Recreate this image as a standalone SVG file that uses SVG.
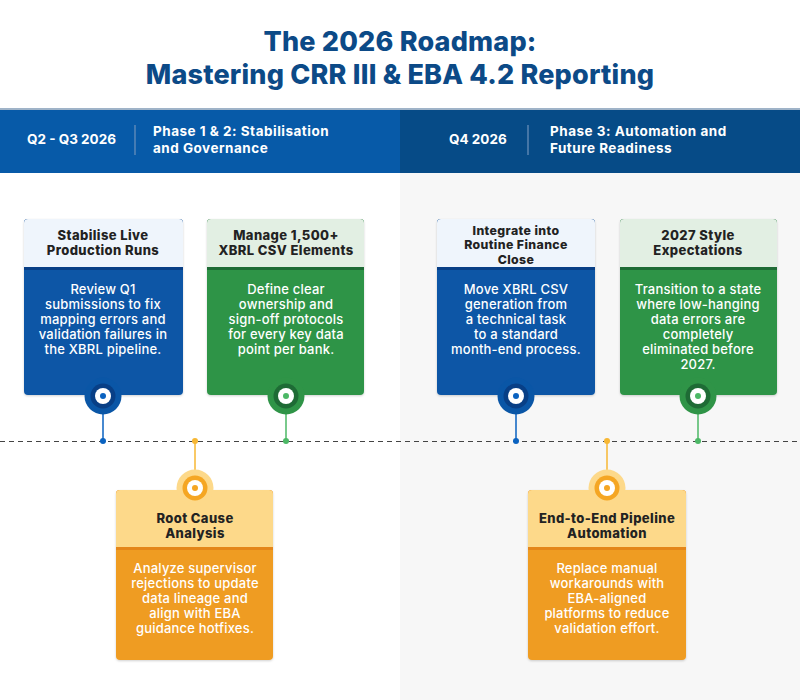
<svg xmlns="http://www.w3.org/2000/svg" width="800" height="700" viewBox="0 0 800 700">
<defs>
<style>
text{font-family:Inter,"Open Sans","Liberation Sans",sans-serif;text-anchor:middle}
.title{font-size:27px;font-weight:800;fill:#0c4a87;letter-spacing:0.2px}
.hq{font-size:13.5px;font-weight:700;fill:#fff;text-anchor:start}
.hp{font-size:13.5px;font-weight:700;fill:#fff;text-anchor:start;letter-spacing:0.5px}
.ct{font-size:13px;font-weight:800;fill:#222;letter-spacing:0.4px}
.ct3{font-size:12.3px}
.cb{font-size:13px;font-weight:500;fill:#fff;letter-spacing:0.2px}
.sep{stroke:#6f93bd;stroke-width:1.2}
.tl{stroke:#444;stroke-width:1;stroke-dasharray:5 4}
</style>
<filter id="sh" x="-10%" y="-10%" width="120%" height="120%"><feDropShadow dx="0" dy="1" stdDeviation="1.2" flood-color="#000" flood-opacity="0.18"/></filter>
</defs>
<rect width="800" height="700" fill="#fff"/>
<rect x="400" y="173" width="400" height="527" fill="#f7f7f7"/>
<text class="title" x="400" y="51">The 2026 Roadmap:</text>
<text class="title" x="400" y="84">Mastering CRR III &amp; EBA 4.2 Reporting</text>
<g id="header">
<rect x="0" y="108" width="800" height="2" fill="#9fb3c8"/>
<rect x="0" y="110" width="400" height="63" fill="#075aa8"/>
<rect x="400" y="110" width="400" height="63" fill="#064b87"/>
<text class="hq" x="27" y="144">Q2 - Q3 2026</text>
<line class="sep" x1="135" y1="125" x2="135" y2="155"/>
<text class="hp" x="153" y="136">Phase 1 &amp; 2: Stabilisation</text>
<text class="hp" x="153" y="153">and Governance</text>
<text class="hq" x="449" y="144">Q4 2026</text>
<line class="sep" x1="528" y1="125" x2="528" y2="155"/>
<text class="hp" x="550" y="136">Phase 3: Automation and</text>
<text class="hp" x="550" y="153">Future Readiness</text>
</g>
<g id="connectors">
<line class="tl" x1="0" y1="441.5" x2="800" y2="441.5"/>
<line x1="103" y1="396" x2="103" y2="441" stroke="#0a62c0" stroke-width="1.5"/>
<circle cx="103" cy="441" r="3" fill="#0a62c0"/>
<line x1="286" y1="396" x2="286" y2="441" stroke="#4cb866" stroke-width="1.5"/>
<circle cx="286" cy="441" r="3" fill="#4cb866"/>
<line x1="516" y1="396" x2="516" y2="441" stroke="#0a62c0" stroke-width="1.5"/>
<circle cx="516" cy="441" r="3" fill="#0a62c0"/>
<line x1="698" y1="396" x2="698" y2="441" stroke="#4cb866" stroke-width="1.5"/>
<circle cx="698" cy="441" r="3" fill="#4cb866"/>
<line x1="195" y1="441" x2="195" y2="488" stroke="#f7b733" stroke-width="1.5"/>
<circle cx="195" cy="441" r="3" fill="#f7b733"/>
<line x1="607" y1="441" x2="607" y2="488" stroke="#f7b733" stroke-width="1.5"/>
<circle cx="607" cy="441" r="3" fill="#f7b733"/>
</g>
<g id="card1">
<rect x="24" y="219" width="159" height="176" rx="4" fill="#0a56a6" filter="url(#sh)"/>
<path d="M24 223a4 4 0 0 1 4-4h151a4 4 0 0 1 4 4v47h-159z" fill="#083f86"/>
<path d="M24 223a4 4 0 0 1 4-4h151a4 4 0 0 1 4 4v44h-159z" fill="#eff5fc"/>
<text class="ct" x="103" y="240">Stabilise Live</text>
<text class="ct" x="103" y="255">Production Runs</text>
<text class="cb" x="103" y="294">Review Q1</text>
<text class="cb" x="103" y="309">submissions to fix</text>
<text class="cb" x="103" y="324">mapping errors and</text>
<text class="cb" x="103" y="339">validation failures in</text>
<text class="cb" x="103" y="354">the XBRL pipeline.</text>
<circle cx="103" cy="396" r="18.5" fill="#0a56a6"/>
<circle cx="103" cy="396" r="12.5" fill="#083f86"/>
<circle cx="103" cy="396" r="8" fill="#fff"/>
<circle cx="103" cy="396" r="3" fill="#0a62c0"/>
</g>
<g id="card2">
<rect x="207" y="219" width="157" height="176" rx="4" fill="#2f9447" filter="url(#sh)"/>
<path d="M207 223a4 4 0 0 1 4-4h149a4 4 0 0 1 4 4v47h-157z" fill="#1e6b35"/>
<path d="M207 223a4 4 0 0 1 4-4h149a4 4 0 0 1 4 4v44h-157z" fill="#e2efe3"/>
<text class="ct" x="286" y="240">Manage 1,500+</text>
<text class="ct" x="286" y="255">XBRL CSV Elements</text>
<text class="cb" x="286" y="294">Define clear</text>
<text class="cb" x="286" y="309">ownership and</text>
<text class="cb" x="286" y="324">sign-off protocols</text>
<text class="cb" x="286" y="339">for every key data</text>
<text class="cb" x="286" y="354">point per bank.</text>
<circle cx="286" cy="396" r="18.5" fill="#2f9447"/>
<circle cx="286" cy="396" r="12.5" fill="#1e6b35"/>
<circle cx="286" cy="396" r="8" fill="#fff"/>
<circle cx="286" cy="396" r="3" fill="#4cb866"/>
</g>
<g id="card3">
<rect x="437" y="219" width="158" height="176" rx="4" fill="#0a56a6" filter="url(#sh)"/>
<path d="M437 223a4 4 0 0 1 4-4h150a4 4 0 0 1 4 4v47h-158z" fill="#083f86"/>
<path d="M437 223a4 4 0 0 1 4-4h150a4 4 0 0 1 4 4v44h-158z" fill="#eff5fc"/>
<text class="ct ct3" x="516" y="234.5">Integrate into</text>
<text class="ct ct3" x="516" y="249">Routine Finance</text>
<text class="ct ct3" x="516" y="263.5">Close</text>
<text class="cb" x="516" y="294">Move XBRL CSV</text>
<text class="cb" x="516" y="309">generation from</text>
<text class="cb" x="516" y="324">a technical task</text>
<text class="cb" x="516" y="339">to a standard</text>
<text class="cb" x="516" y="354">month-end process.</text>
<circle cx="516" cy="396" r="18.5" fill="#0a56a6"/>
<circle cx="516" cy="396" r="12.5" fill="#083f86"/>
<circle cx="516" cy="396" r="8" fill="#fff"/>
<circle cx="516" cy="396" r="3" fill="#0a62c0"/>
</g>
<g id="card4">
<rect x="620" y="219" width="157" height="176" rx="4" fill="#2f9447" filter="url(#sh)"/>
<path d="M620 223a4 4 0 0 1 4-4h149a4 4 0 0 1 4 4v47h-157z" fill="#1e6b35"/>
<path d="M620 223a4 4 0 0 1 4-4h149a4 4 0 0 1 4 4v44h-157z" fill="#e2efe3"/>
<text class="ct" x="698" y="240">2027 Style</text>
<text class="ct" x="698" y="255">Expectations</text>
<text class="cb" x="698" y="294">Transition to a state</text>
<text class="cb" x="698" y="309">where low-hanging</text>
<text class="cb" x="698" y="324">data errors are</text>
<text class="cb" x="698" y="339">completely</text>
<text class="cb" x="698" y="354">eliminated before</text>
<text class="cb" x="698" y="369">2027.</text>
<circle cx="698" cy="396" r="18.5" fill="#2f9447"/>
<circle cx="698" cy="396" r="12.5" fill="#1e6b35"/>
<circle cx="698" cy="396" r="8" fill="#fff"/>
<circle cx="698" cy="396" r="3" fill="#4cb866"/>
</g>
<g id="card5">
<rect x="116" y="490" width="157" height="170" rx="4" fill="#ef9c24" filter="url(#sh)"/>
<path d="M116 494a4 4 0 0 1 4-4h149a4 4 0 0 1 4 4v56h-157z" fill="#e4861a"/>
<path d="M116 494a4 4 0 0 1 4-4h149a4 4 0 0 1 4 4v53h-157z" fill="#fdd98a"/>
<circle cx="195" cy="488" r="18.5" fill="#fdd98a"/>
<circle cx="195" cy="488" r="12.5" fill="#f5a623"/>
<circle cx="195" cy="488" r="8" fill="#fff"/>
<circle cx="195" cy="488" r="3" fill="#f5a623"/>
<text class="ct" x="195" y="523">Root Cause</text>
<text class="ct" x="195" y="538">Analysis</text>
<text class="cb" x="195" y="573">Analyze supervisor</text>
<text class="cb" x="195" y="588">rejections to update</text>
<text class="cb" x="195" y="603">data lineage and</text>
<text class="cb" x="195" y="618">align with EBA</text>
<text class="cb" x="195" y="633">guidance hotfixes.</text>
</g>
<g id="card6">
<rect x="528" y="490" width="158" height="170" rx="4" fill="#ef9c24" filter="url(#sh)"/>
<path d="M528 494a4 4 0 0 1 4-4h150a4 4 0 0 1 4 4v56h-158z" fill="#e4861a"/>
<path d="M528 494a4 4 0 0 1 4-4h150a4 4 0 0 1 4 4v53h-158z" fill="#fdd98a"/>
<circle cx="607" cy="488" r="18.5" fill="#fdd98a"/>
<circle cx="607" cy="488" r="12.5" fill="#f5a623"/>
<circle cx="607" cy="488" r="8" fill="#fff"/>
<circle cx="607" cy="488" r="3" fill="#f5a623"/>
<text class="ct" x="607" y="523">End-to-End Pipeline</text>
<text class="ct" x="607" y="538">Automation</text>
<text class="cb" x="607" y="573">Replace manual</text>
<text class="cb" x="607" y="588">workarounds with</text>
<text class="cb" x="607" y="603">EBA-aligned</text>
<text class="cb" x="607" y="618">platforms to reduce</text>
<text class="cb" x="607" y="633">validation effort.</text>
</g>
</svg>
